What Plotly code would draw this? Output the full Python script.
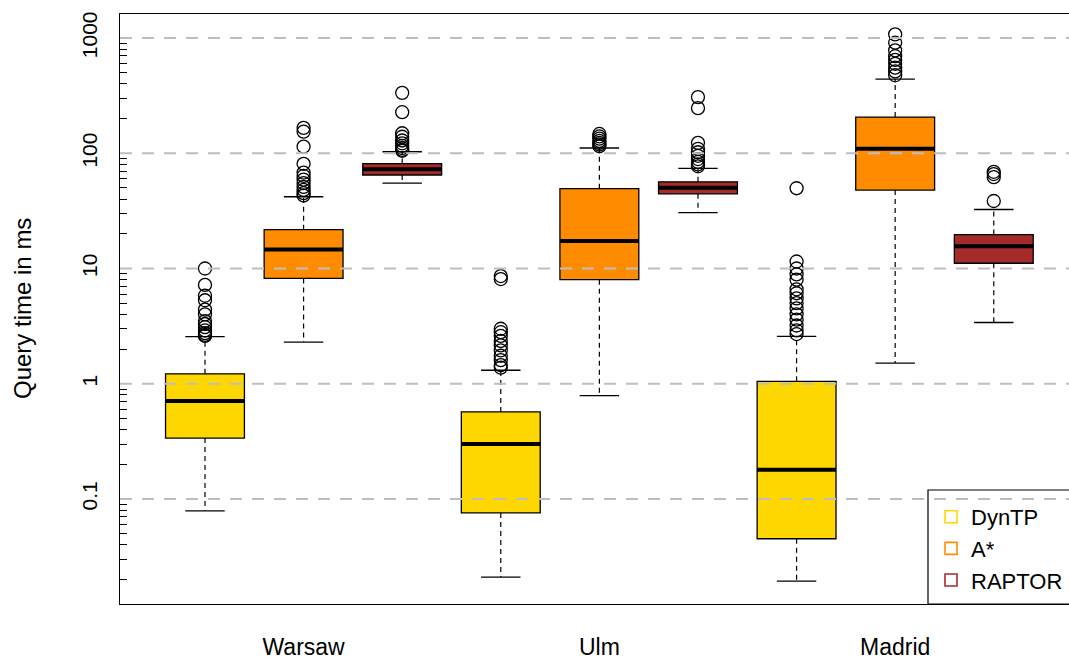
import plotly.graph_objects as go

CITIES = ["Warsaw", "Ulm", "Madrid"]
METHODS = ["DynTP", "A*", "RAPTOR"]
COLORS = ["#FFD700", "#FF8C00", "#A52A2A"]

# per-method statistics, one value per city (Warsaw, Ulm, Madrid), in ms
LOWER = {
    "DynTP": [0.079, 0.021, 0.0194],
    "A*": [2.30, 0.79, 1.51],
    "RAPTOR": [55.0, 30.5, 3.40],
}
Q1 = {
    "DynTP": [0.338, 0.0757, 0.0452],
    "A*": [8.2, 8.0, 47.9],
    "RAPTOR": [64.7, 44.4, 11.1],
}
MEDIAN = {
    "DynTP": [0.708, 0.300, 0.179],
    "A*": [14.6, 17.3, 109.6],
    "RAPTOR": [72.6, 50.3, 15.6],
}
Q3 = {
    "DynTP": [1.22, 0.569, 1.05],
    "A*": [21.7, 49.3, 206.0],
    "RAPTOR": [81.3, 56.5, 19.7],
}
UPPER = {
    "DynTP": [2.56, 1.31, 2.58],
    "A*": [41.9, 111.0, 440.0],
    "RAPTOR": [103.0, 74.0, 32.5],
}
OUTLIERS = {
    "DynTP": [
        [10.0, 7.2, 5.8, 5.3, 4.4, 4.0, 3.5, 3.3, 3.1, 2.9, 2.75, 2.65, 2.6],
        [8.6, 8.1, 3.0, 2.8, 2.6, 2.35, 2.15, 1.95, 1.75, 1.6, 1.45, 1.38],
        [49.7, 11.5, 10.0, 8.9, 8.0, 6.6, 6.1, 5.5, 5.0, 4.5, 4.0, 3.6, 3.2, 2.9, 2.7],
    ],
    "A*": [
        [166, 154, 114, 81, 68, 63.5, 59, 55, 51, 48, 45, 43],
        [147, 140, 134, 128, 123, 119, 115],
        [1075, 910, 780, 695, 645, 597, 553, 513, 475],
    ],
    "RAPTOR": [
        [334, 227, 149, 139, 129, 122, 116, 111, 107, 105],
        [307, 246, 123, 109, 102, 95, 89, 84, 80, 77],
        [69, 66, 62, 38.5],
    ],
}

GRID_VALUES = [0.1, 1, 10, 100, 1000]
TICK_TEXT = ["0.1", "1", "10", "100", "1000"]
MINOR_TICKS = [m * 10.0 ** e for e in range(-2, 4) for m in range(2, 10)]

BOX_W = 0.8
CAP_W = 0.4
FONT = "Liberation Sans, Arial, sans-serif"

fig = go.Figure()

n_m = len(METHODS)
for mi, (meth, col) in enumerate(zip(METHODS, COLORS)):
    pos = [ci * n_m + mi + 1 for ci in range(len(CITIES))]
    fig.add_trace(go.Box(
        x=pos, q1=Q1[meth], median=MEDIAN[meth], q3=Q3[meth],
        lowerfence=Q1[meth], upperfence=Q3[meth],
        width=BOX_W, fillcolor=col, line=dict(color="black", width=1.3),
        boxpoints=False, showlegend=False, hoverinfo="skip",
    ))

for mi, meth in enumerate(METHODS):
    pos = [ci * n_m + mi + 1 for ci in range(len(CITIES))]
    wx, wy, cx, cy, mx, my, ox, oy = [], [], [], [], [], [], [], []
    for ci, p in enumerate(pos):
        wx += [p, p, None, p, p, None]
        wy += [Q3[meth][ci], UPPER[meth][ci], None, Q1[meth][ci], LOWER[meth][ci], None]
        cx += [p - CAP_W / 2, p + CAP_W / 2, None, p - CAP_W / 2, p + CAP_W / 2, None]
        cy += [UPPER[meth][ci], UPPER[meth][ci], None, LOWER[meth][ci], LOWER[meth][ci], None]
        mx += [p - BOX_W / 2, p + BOX_W / 2, None]
        my += [MEDIAN[meth][ci], MEDIAN[meth][ci], None]
        ox += [p] * len(OUTLIERS[meth][ci])
        oy += OUTLIERS[meth][ci]
    fig.add_trace(go.Scatter(x=wx, y=wy, mode="lines", showlegend=False, hoverinfo="skip",
                             line=dict(color="black", width=1.2, dash="5px,4px")))
    fig.add_trace(go.Scatter(x=cx, y=cy, mode="lines", showlegend=False, hoverinfo="skip",
                             line=dict(color="black", width=1.3)))
    fig.add_trace(go.Scatter(x=mx, y=my, mode="lines", showlegend=False, hoverinfo="skip",
                             line=dict(color="black", width=4)))
    fig.add_trace(go.Scatter(x=ox, y=oy, mode="markers", showlegend=False, hoverinfo="skip",
                             marker=dict(symbol="circle-open", size=13, color="black",
                                         line=dict(width=1.3))))

for meth, col in zip(METHODS, COLORS):
    fig.add_trace(go.Scatter(x=[None], y=[None], mode="markers", name=meth,
                             marker=dict(symbol="square-open", size=12, color=col,
                                         line=dict(width=1.6))))

for g in GRID_VALUES:
    fig.add_shape(type="line", xref="paper", x0=0, x1=1, yref="y",
                  y0=g, y1=g, layer="above",
                  line=dict(color="#BEBEBE", width=2, dash="12px,10px"))

# legend frame (open on the right, as in the cropped original)
fig.add_shape(type="rect", xref="paper", yref="paper",
              x0=(928 - 120) / 949, x1=1.05, y0=0, y1=(604 - 490) / 590,
              layer="above", line=dict(color="black", width=1.2))

fig.add_annotation(text="Query time in ms", xref="paper", yref="paper",
                   x=(22 - 120) / 949, y=0.5, xanchor="center", yanchor="middle",
                   textangle=-90, showarrow=False,
                   font=dict(family=FONT, size=24, color="black"))

fig.update_layout(
    width=1069, height=659,
    margin=dict(l=120, r=0, t=14, b=55, autoexpand=False),
    paper_bgcolor="white", plot_bgcolor="white",
    boxmode="overlay",
    font=dict(family=FONT, size=22, color="black"),
    showlegend=True,
    legend=dict(x=(931 - 120) / 949, y=(604 - 496) / 590, xanchor="left", yanchor="top",
                bgcolor="rgba(0,0,0,0)", borderwidth=0,
                font=dict(family=FONT, size=22, color="black")),
    xaxis=dict(range=[0.138, 9.763], tickmode="array",
               tickvals=[ci * n_m + 2 for ci in range(len(CITIES))], ticktext=CITIES,
               tickfont=dict(size=23),
               ticks="outside", ticklen=22, tickcolor="rgba(0,0,0,0)",
               showgrid=False, zeroline=False, showline=True, mirror=True,
               linecolor="black", linewidth=1.3),
    yaxis=dict(type="log", range=[-1.911, 3.208], tickmode="array",
               tickvals=GRID_VALUES, ticktext=TICK_TEXT, tickangle=-90,
               tickfont=dict(size=21), ticklabelstandoff=13,
               ticks="inside", ticklen=12, tickwidth=1.2, tickcolor="black",
               minor=dict(tickmode="array", tickvals=MINOR_TICKS, ticks="inside",
                          ticklen=7, tickwidth=1.1, tickcolor="black", showgrid=False),
               showgrid=False, zeroline=False, showline=True, linecolor="black",
               linewidth=1.3),
)

fig.write_html(
    "out.html",
    config={"displayModeBar": False},
    post_script="document.body.style.margin='0px';document.body.style.overflow='hidden';",
)
